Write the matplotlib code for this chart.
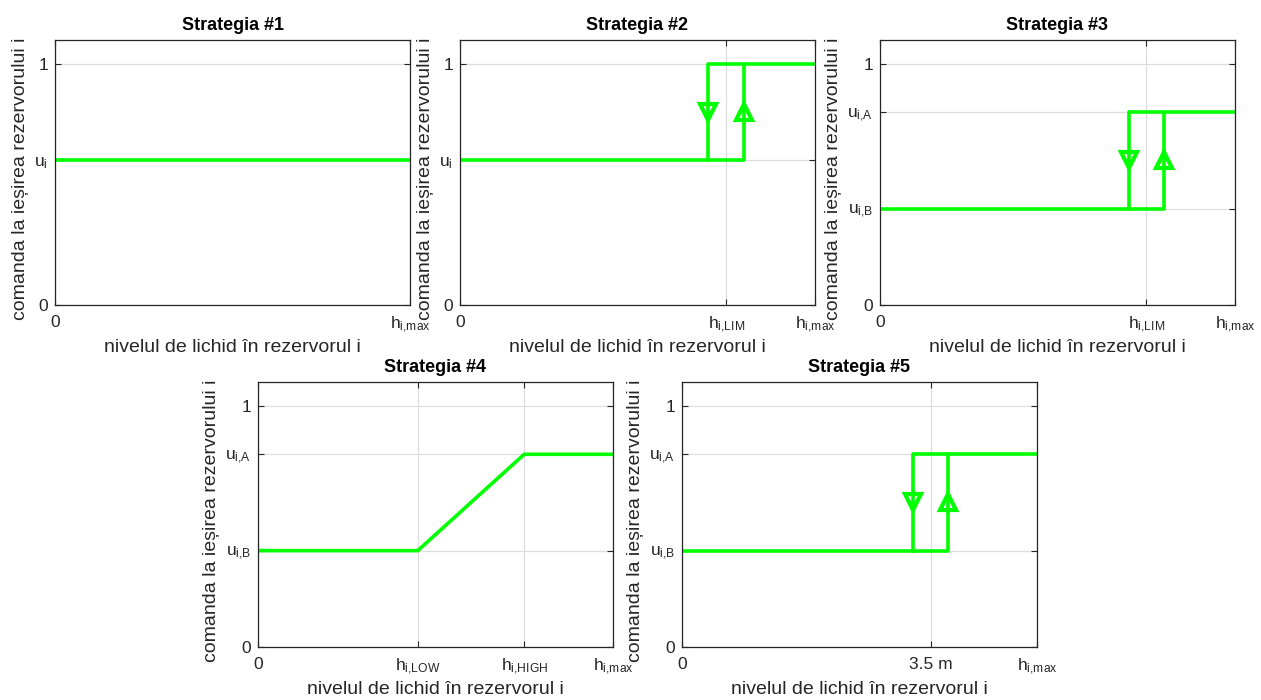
import matplotlib
matplotlib.use("Agg")
import matplotlib.pyplot as plt

plt.rcParams['font.family'] = ['Liberation Sans', 'DejaVu Sans']
plt.rcParams['mathtext.fontset'] = 'custom'
plt.rcParams['mathtext.rm'] = 'Liberation Sans'
plt.rcParams['mathtext.default'] = 'regular'

GREEN = (0, 1, 0)
DARK = '#262626'

# --- data (normalised level, command) ---
s1_x = [0.0, 1.0]
s1_y = [0.6, 0.6]

s2_x = [0.0, 0.8, 0.8, 1.0]
s2_y = [0.6, 0.6, 1.0, 1.0]
s2_back_x = [0.8, 0.7, 0.7]
s2_back_y = [1.0, 1.0, 0.6]
s2_down = (0.7, 0.8)
s2_up = (0.8, 0.8)

s3_x = [0.0, 0.8, 0.8, 1.0]
s3_y = [0.4, 0.4, 0.8, 0.8]
s3_back_x = [0.8, 0.7, 0.7]
s3_back_y = [0.8, 0.8, 0.4]
s3_down = (0.7, 0.6)
s3_up = (0.8, 0.6)

s4_x = [0.0, 0.45, 0.75, 1.0]
s4_y = [0.4, 0.4, 0.8, 0.8]

# strategy 5 in metres
s5_x = [0.0, 3.75, 3.75, 5.0]
s5_y = [0.4, 0.4, 0.8, 0.8]
s5_back_x = [3.75, 3.25, 3.25]
s5_back_y = [0.8, 0.8, 0.4]
s5_down = (3.25, 0.6)
s5_up = (3.75, 0.6)

xt_1 = [0.0, 1.0]
xl_1 = ['0', r'$h_{i{,}max}$']
xt_23 = [0.0, 0.75, 1.0]
xl_23 = ['0', r'$h_{i{,}LIM}$', r'$h_{i{,}max}$']
xt_4 = [0.0, 0.45, 0.75, 1.0]
xl_4 = ['0', r'$h_{i{,}LOW}$', r'$h_{i{,}HIGH}$', r'$h_{i{,}max}$']
xt_5 = [0.0, 3.5, 5.0]
xl_5 = ['0', '3.5 m', r'$h_{i{,}max}$']

yt_12 = [0.0, 0.6, 1.0]
yl_12 = ['0', r'$u_i$', '1']
yt_345 = [0.0, 0.4, 0.8, 1.0]
yl_345 = ['0', r'$u_{i{,}B}$', r'$u_{i{,}A}$', '1']

W, H = 1261, 700
fig = plt.figure(figsize=(W / 100, H / 100), dpi=100)


def make_ax(left, top, title, xt, xl, yt, yl, xmax=1.0):
    ax = fig.add_axes([left / W, 1 - (top + 265) / H, 355 / W, 265 / H])
    ax.set_xlim(0, xmax)
    ax.set_ylim(0, 1.1)
    ax.set_xticks(xt)
    ax.set_xticklabels(xl)
    ax.set_yticks(yt)
    ax.set_yticklabels(yl)
    ax.set_axisbelow(True)
    ax.grid(True, color='#dedede', linewidth=0.9)
    ax.tick_params(direction='in', top=True, right=True, length=4,
                   width=0.8, color=DARK, labelcolor=DARK, labelsize=12.5)
    ax.tick_params(axis='x', pad=7)
    ax.tick_params(axis='y', pad=5)
    for sp in ax.spines.values():
        sp.set_color(DARK)
        sp.set_linewidth(0.9)
    ax.set_title(title, fontsize=13, fontweight='bold', pad=7)
    ax.set_xlabel('nivelul de lichid în rezervorul i', fontsize=14, color=DARK)
    ax.set_ylabel('comanda la ieșirea rezervorului i', fontsize=14, color=DARK,
                  labelpad=4)
    ax.xaxis.set_label_coords(0.5, -0.13)
    ax.yaxis.label.set_y(0.475)
    return ax


def arrows(ax, down, up):
    ax.plot(*down, marker='v', markersize=12, mfc='none', mec=GREEN, mew=3)
    ax.plot(*up, marker='^', markersize=12, mfc='none', mec=GREEN, mew=3)


ax1 = make_ax(55, 40, 'Strategia #1', xt_1, xl_1, yt_12, yl_12)
ax1.plot(s1_x, s1_y, color=GREEN, linewidth=2.6)

ax2 = make_ax(460, 40, 'Strategia #2', xt_23, xl_23, yt_12, yl_12)
ax2.plot(s2_x, s2_y, color=GREEN, linewidth=2.6)
ax2.plot(s2_back_x, s2_back_y, color=GREEN, linewidth=2.6)
arrows(ax2, s2_down, s2_up)

ax3 = make_ax(880, 40, 'Strategia #3', xt_23, xl_23, yt_345, yl_345)
ax3.plot(s3_x, s3_y, color=GREEN, linewidth=2.6)
ax3.plot(s3_back_x, s3_back_y, color=GREEN, linewidth=2.6)
arrows(ax3, s3_down, s3_up)

ax4 = make_ax(258, 382, 'Strategia #4', xt_4, xl_4, yt_345, yl_345)
ax4.plot(s4_x, s4_y, color=GREEN, linewidth=2.6)

ax5 = make_ax(682, 382, 'Strategia #5', xt_5, xl_5, yt_345, yl_345, xmax=5.0)
ax5.plot(s5_x, s5_y, color=GREEN, linewidth=2.6)
ax5.plot(s5_back_x, s5_back_y, color=GREEN, linewidth=2.6)
arrows(ax5, s5_down, s5_up)

fig.savefig('out.png', dpi=100)
